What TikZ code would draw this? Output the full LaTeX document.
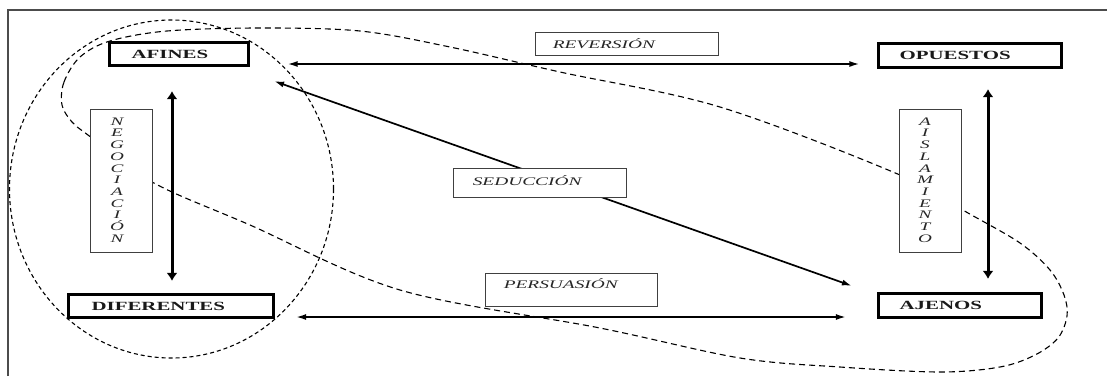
\documentclass[tikz,border=0pt]{standalone}
\usepackage{fontspec}
\setmainfont{Liberation Serif}[FakeStretch=1.67]
\usetikzlibrary{arrows.meta}
\begin{document}
\begin{tikzpicture}[x=1pt,y=-1pt,
  frameline/.style={draw=black!70, line width=1.3pt},
  mainbox/.style={draw, line width=2.2pt, fill=white, inner sep=0pt},
  labelbox/.style={draw=black!75, line width=0.9pt, fill=white, inner sep=0pt},
  maintext/.style={font=\fontsize{12.5}{14}\selectfont\bfseries, inner sep=0pt, text=black!90},
  labeltext/.style={font=\fontsize{11.6}{13}\selectfont\itshape, inner sep=0pt, text=black!85},
  vtext/.style={font=\fontsize{11.5}{11.7}\selectfont\itshape, align=center, inner sep=0pt, text=black!85},
  dashone/.style={draw, line width=1.1pt, dash pattern=on 4pt off 3pt},
  dashtwo/.style={draw, line width=1.1pt, dash pattern=on 6pt off 4pt},
  harrow/.style={line width=1.7pt, {Latex[length=10pt,width=6pt]}-{Latex[length=10pt,width=6pt]}},
  varrow/.style={line width=3pt, {Latex[length=8pt,width=11pt]}-{Latex[length=8pt,width=11pt]}}
]
\useasboundingbox (0,0) rectangle (1107,376);
\draw[frameline] (8,376) -- (8,10) -- (1107,10);

% dashed groupings
\draw[dashone] (171.5,189) ellipse [x radius=162, y radius=169];
\draw[dashtwo] plot[smooth cycle, tension=0.55] coordinates {
  (62,105) (64,82) (80,57) (110,41) (167,31) (260,28) (360,31) (450,47)
  (560,72) (720,107) (900,175) (968,213) (1020,243) (1050,270) (1064,295)
  (1067,316) (1058,338) (1035,355) (1000,367) (940,372) (840,367) (740,358) (600,328)
  (400,290) (250,225) (152,182) (88,135) (72,122)};

% main boxes
\node[mainbox, minimum width=139pt, minimum height=23pt] (afines) at (179,54) {};
\node[mainbox, minimum width=183pt, minimum height=24pt] (opuestos) at (970,55.5) {};
\node[mainbox, minimum width=205pt, minimum height=23pt] (diferentes) at (171,306) {};
\node[mainbox, minimum width=163pt, minimum height=24pt] (ajenos) at (960,305.5) {};
\node[maintext, anchor=west] (afinesT) at ([xshift=23pt]afines.west) {AFINES};
\node[maintext, anchor=west] (opuestosT) at ([xshift=22pt]opuestos.west) {OPUESTOS};
\node[maintext, anchor=west] (diferentesT) at ([xshift=24pt]diferentes.west) {DIFERENTES};
\node[maintext, anchor=west] (ajenosT) at ([xshift=22pt]ajenos.west) {AJENOS};

% connectors
\draw[harrow, shorten <=38pt, shorten >=18pt] ([yshift=-10pt]afines.east) -- ([yshift=-8.5pt]opuestos.west);
\draw[harrow, shorten <=21.5pt, shorten >=31.5pt] ([yshift=-11pt]diferentes.east) -- ([yshift=-11.5pt]ajenos.west);
\draw[harrow] ([shift={(24.5,14.5)}]afines.south east) -- ([shift={(-25.5,-6.5)}]ajenos.north west);
\draw[varrow, shorten <=24.5pt, shorten >=12.5pt] ([xshift=-7pt]afines.south) -- ([xshift=1pt]diferentes.north);
\draw[varrow, shorten <=20.5pt, shorten >=13.5pt] ([xshift=18pt]opuestos.south) -- ([xshift=28pt]ajenos.north);

% label boxes
\node[labelbox, minimum width=183pt, minimum height=23pt] (rev) at (626.5,43.5) {};
\node[labelbox, minimum width=173pt, minimum height=29pt] (sed) at (539.5,182.5) {};
\node[labelbox, minimum width=172pt, minimum height=33pt] (per) at (571,289.5) {};
\node[labelbox, minimum width=62pt, minimum height=143pt] (neg) at (121,180.5) {};
\node[labelbox, minimum width=62pt, minimum height=143pt] (ais) at (930,180.5) {};
\node[labeltext, anchor=west] (revT) at ([xshift=18pt]rev.west) {REVERSIÓN};
\node[labeltext, anchor=west] (sedT) at ([xshift=20pt,yshift=2pt]sed.west) {SEDUCCIÓN};
\node[labeltext, anchor=west] (perT) at ([xshift=19pt,yshift=5.5pt]per.west) {PERSUASIÓN};
\node[vtext] (negT) at (117,180) {N\\E\\G\\O\\C\\I\\A\\C\\I\\Ó\\N};
\node[vtext] (aisT) at (925,180) {A\\I\\S\\L\\A\\M\\I\\E\\N\\T\\O};
\end{tikzpicture}
\end{document}
